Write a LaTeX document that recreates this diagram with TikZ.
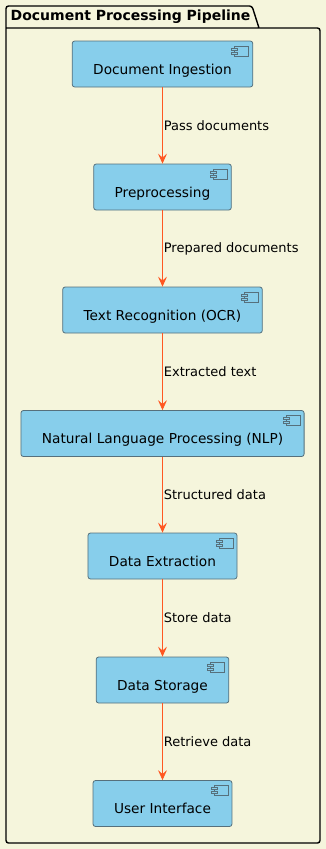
\documentclass[tikz,border=0pt]{standalone}
\usepackage{fontspec}
\setmainfont{DejaVu Sans}
\usepackage{tikz}
\usetikzlibrary{arrows.meta}
\definecolor{C_BG}  {HTML}{F5F5DC}
\definecolor{C_FILL}{HTML}{87CEEB}
\definecolor{C_EDGE}{HTML}{56707C}
\definecolor{C_FLOW}{HTML}{FF5722}
\tikzset{
  %% -- outer package frame --
  pipe/pkg/.style={draw=black, line width=1.4pt, rounded corners=2.5pt},
  %% -- package title --
  pipe/title/.style={anchor=base west, inner sep=0pt,
    font=\fontsize{14}{16}\selectfont\bfseries},
  %% -- component box with the small component glyph --
  pipe/comp/.style={
    draw=C_EDGE, line width=0.8pt, rounded corners=2.5pt, fill=C_FILL,
    inner xsep=21pt, inner ysep=0pt, text height=33pt, text depth=13pt,
    font=\fontsize{13.7}{16}\selectfont,
    path picture={
      \draw[C_EDGE, line width=0.8pt, sharp corners, fill=C_FILL]
        ([shift={(-18pt,-5pt)}]path picture bounding box.north east)
        rectangle ([shift={(-4pt,-15pt)}]path picture bounding box.north east);
      \draw[C_EDGE, line width=0.8pt, sharp corners, fill=C_FILL]
        ([shift={(-21pt,-7pt)}]path picture bounding box.north east)
        rectangle ([shift={(-15pt,-9pt)}]path picture bounding box.north east)
        ([shift={(-21pt,-11pt)}]path picture bounding box.north east)
        rectangle ([shift={(-15pt,-13pt)}]path picture bounding box.north east);
    }
  },
  %% -- data flow between components --
  pipe/flow/.style={-{Stealth[length=10pt, width=9pt, inset=4pt]},
    draw=C_FLOW, fill=C_FLOW, line width=0.7pt},
  %% -- flow label --
  pipe/lbl/.style={anchor=west, inner sep=1pt, text=black,
    font=\fontsize{13}{15}\selectfont},
}

\begin{document}
\begin{tikzpicture}[x=1pt, y=-1pt]
%% Canvas
\fill[C_BG] (0,0) rectangle (326,849);
\useasboundingbox (0,0) rectangle (326,849);

%% Package frame with tab
\draw[pipe/pkg] (259,28) -- (252,6) -- (6,6) -- (6,843)
  -- (320,843) -- (320,28) -- (6,28);
\node[pipe/title] (title) at (10.5,20.3) {Document Processing Pipeline};

%% Components
\node[pipe/comp] (ingest)  at (162.5, 64)    {Document Ingestion};
\node[pipe/comp] (prep)    at (162.5, 187)   {Preprocessing};
\node[pipe/comp] (ocr)     at (162.5, 310)   {Text Recognition (OCR)};
\node[pipe/comp] (nlp)     at (162.5, 433.5) {Natural Language Processing (NLP)};
\node[pipe/comp] (extract) at (162.5, 556)   {Data Extraction};
\node[pipe/comp] (store)   at (162.5, 680)   {Data Storage};
\node[pipe/comp] (ui)      at (162.5, 803.5) {User Interface};

%% Flows
\draw[pipe/flow] (ingest)  -- node[pipe/lbl]{Pass documents}     (prep);
\draw[pipe/flow] (prep)    -- node[pipe/lbl]{Prepared documents} (ocr);
\draw[pipe/flow] (ocr)     -- node[pipe/lbl]{Extracted text}     (nlp);
\draw[pipe/flow] (nlp)     -- node[pipe/lbl]{Structured data}    (extract);
\draw[pipe/flow] (extract) -- node[pipe/lbl]{Store data}         (store);
\draw[pipe/flow] (store)   -- node[pipe/lbl]{Retrieve data}      (ui);
\end{tikzpicture}
\end{document}
